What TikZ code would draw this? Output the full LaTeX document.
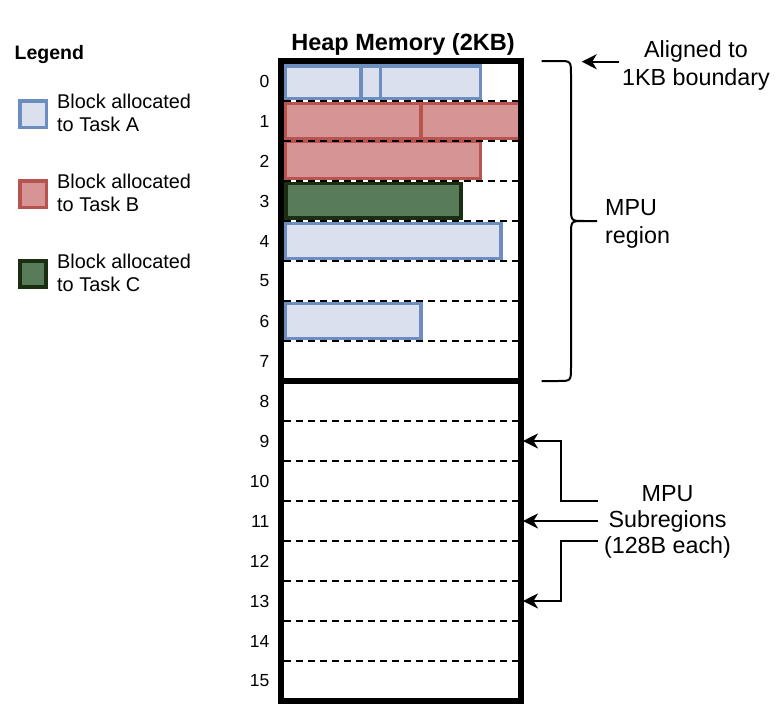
\documentclass[tikz,border=0pt]{standalone}
\usepackage{fontspec}
\setmainfont{Liberation Sans}
\usetikzlibrary{arrows.meta}
\definecolor{blueS}{HTML}{6C8EBF}
\definecolor{blueF}{HTML}{DAE0EE}
\definecolor{redS}{HTML}{B85450}
\definecolor{redF}{HTML}{D69494}
\definecolor{greenS}{HTML}{1C2E12}
\definecolor{greenF}{HTML}{587C5A}
\tikzset{
  blk/.style={inner sep=0pt, outer sep=0pt, anchor=north west, minimum height=35},
  blkA/.style={blk, draw=blueS, fill=blueF, line width=3.3},
  blkB/.style={blk, draw=redS, fill=redF, line width=3.3},
  blkC/.style={blk, draw=greenS, fill=greenF, line width=3.6},
  legsq/.style={inner sep=0pt, minimum size=26.3},
  dashline/.style={line width=2, dash pattern=on 7pt off 5pt},
  num/.style={inner sep=0pt, anchor=east, font=\fontsize{17.5}{20}\selectfont},
  legtxt/.style={inner sep=0pt, anchor=north west, align=left, font=\fontsize{19.9}{23.7}\selectfont},
  lbl/.style={inner sep=0pt, font=\fontsize{23.3}{28}\selectfont},
  conn/.style={line width=2, -{Stealth[length=15pt,width=15pt,inset=4.5pt]}},
}
\begin{document}
\begin{tikzpicture}[x=1pt,y=-1pt]
\useasboundingbox (0,0) rectangle (780,704);

% legend
\node[inner sep=0pt, anchor=north west, font=\bfseries\fontsize{19.5}{22}\selectfont] (legend) at (14.5,45) {Legend};
\node[legsq, draw=blueS, fill=blueF, line width=3.3] (la) at (33,114.2) {};
\node[legsq, draw=redS, fill=redF, line width=3.3] (lb) at (33,194) {};
\node[legsq, draw=greenS, fill=greenF, line width=3.8] (lc) at (33,274) {};
\node[legtxt] (ta) at (57,93.5) {Block allocated\\to Task A};
\node[legtxt] (tb) at (57,173.5) {Block allocated\\to Task B};
\node[legtxt] (tc) at (57,253.5) {Block allocated\\to Task C};

% title
\node[inner sep=0pt, anchor=base, font=\bfseries\fontsize{23.5}{26}\selectfont] (title) at (403,50.5) {Heap Memory (2KB)};

% blocks
\node[blkB, minimum width=194.8, minimum height=37] (b2) at (285.7,141.5) {};
\node[blkA, minimum width=75.3, minimum height=32.3] (a0a) at (285.7,66) {};
\node[blkA, minimum width=19.7, minimum height=32.3] (a0b) at (361,66) {};
\node[blkA, minimum width=100, minimum height=32.3] (a0c) at (380.7,66) {};
\node[blkB, minimum width=135.3] (b1a) at (285.7,103.3) {};
\node[blkB, minimum width=99] (b1b) at (421,103.3) {};
\node[blkC, minimum width=175.3, minimum height=34.7] (c3) at (285.7,183.5) {};
\node[blkA, minimum width=215.3] (a4) at (285.7,223.3) {};
\node[blkA, minimum width=135.3] (a6) at (285.7,303.3) {};

% dashed subregion lines
\foreach \i in {1,...,7,9,10,11,12,13,14,15}
  \draw[dashline] (284,{61+40*\i}) -- (518.5,{61+40*\i});

% heap outline
\node[draw, line width=5.5, minimum width=240, minimum height=640, inner sep=0pt] (heap) at (401,381) {};
\coordinate (mid) at (401,381);
\draw[line width=5.5] (heap.west |- mid) -- (heap.east |- mid);

% row numbers
\foreach \i in {0,...,15}
  \node[num] (n\i) at (269.5,{81+40*\i}) {\i};

% brace
\draw[line width=2] (541.5,61) -- (558,61) .. controls (571,61) .. (571,75) -- (571,207)
  .. controls (571,221) .. (584,221) -- (597,221);
\draw[line width=2] (584,221) .. controls (571,221) .. (571,235) -- (571,367)
  .. controls (571,381) .. (558,381) -- (541.5,381);

% labels
\node[lbl, anchor=north, align=center] (aligned) at (696,40) {Aligned to\\1KB boundary};
\node[lbl, anchor=north west, align=left] (region) at (605,199) {MPU\\region};
\node[lbl, anchor=north, align=center, font=\fontsize{23.3}{25.7}\selectfont] (sub) at (667.5,485.7) {MPU\\Subregions\\(128B each)};

% arrows
\coordinate (alS) at (619,61.7);
\coordinate (alT) at (581.7,61.7);
\draw[conn] (alS) -- (alT);

\coordinate (s1) at (598,501);
\coordinate (s2) at (598,521);
\coordinate (s3) at (598,541);
\coordinate (t9) at (523,441);
\coordinate (t11) at (523,521);
\coordinate (t13) at (523,601);
\draw[conn] (s1) -- (561,501) -- (561,441) -- (t9);
\draw[conn] (s2) -- (t11);
\draw[conn] (s3) -- (561,541) -- (561,601) -- (t13);
\end{tikzpicture}
\end{document}
